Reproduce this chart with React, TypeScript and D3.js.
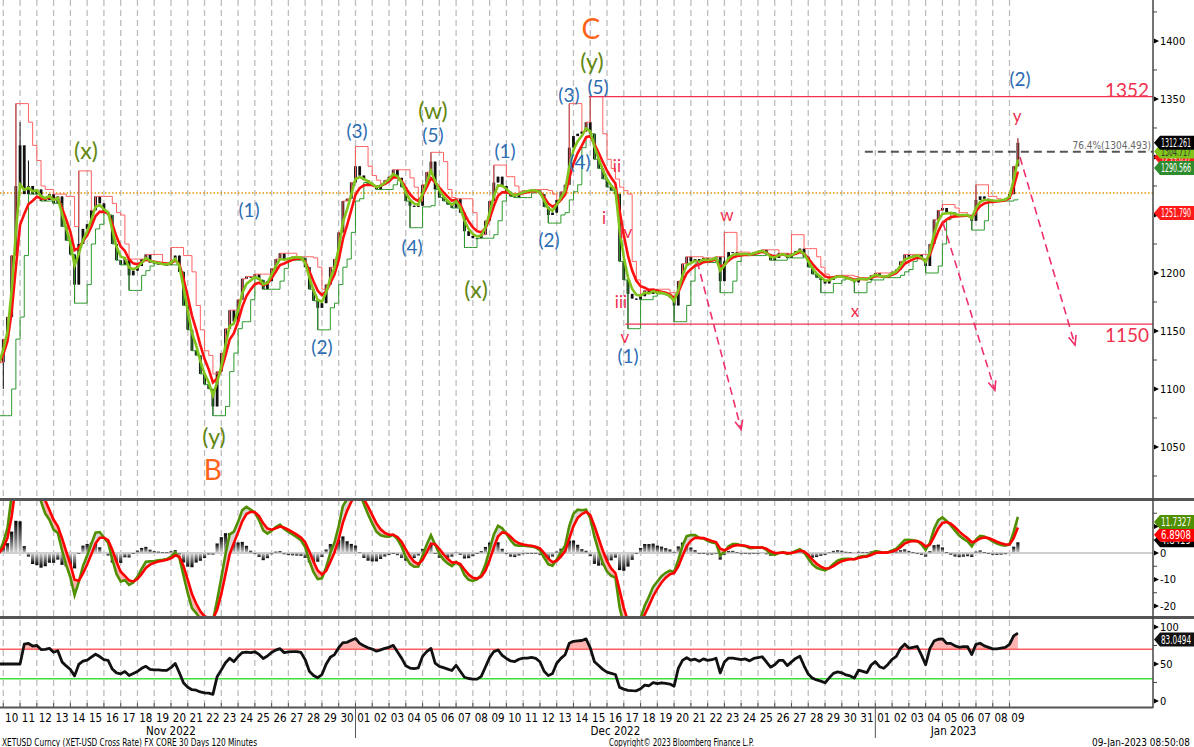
import React from 'react';
import * as d3 from 'd3';

// chart frame
const W = 1194;
const H = 747;
const AXIS_X = 1153;
const DAY_MS = 86400000;
const BAR_MS = 6 * 3600000;
const T0 = Date.UTC(2022, 10, 10); // Nov 10 00:00
const FIRST_BAR = Date.UTC(2022, 10, 9, 18);

// XETUSD 6-hour closes, Nov 9 18:00 -> Jan 9 12:00
const closes = [
  1123,
  1143, 1162, 1215, 1275, 1310, 1268, 1275, 1268, 1272, 1262, 1263, 1268, // Nov 10-12
  1260, 1266, 1240, 1228, 1216, 1190, 1225, 1238, 1242, 1254, 1266, 1260, // Nov 13-15
  1252, 1250, 1225, 1211, 1207, 1212, 1198, 1202, 1206, 1212, 1216, 1209, // Nov 16-18
  1208, 1208, 1207, 1207, 1210, 1215, 1201, 1172, 1151, 1133, 1129, 1113, // Nov 19-21
  1104, 1100, 1085, 1115, 1131, 1152, 1168, 1158, 1177, 1195, 1197, 1196, // Nov 22-24
  1199, 1194, 1186, 1193, 1204, 1212, 1217, 1211, 1213, 1214, 1214, 1213, // Nov 25-27
  1205, 1186, 1176, 1170, 1174, 1190, 1205, 1212, 1235, 1262, 1264, 1278, // Nov 28-30
  1292, 1284, 1280, 1277, 1275, 1272, 1276, 1280, 1283, 1289, 1282, 1274, // Dec 1-3
  1262, 1258, 1257, 1258, 1276, 1287, 1296, 1272, 1265, 1262, 1259, 1256, // Dec 4-6
  1264, 1252, 1236, 1232, 1230, 1230, 1233, 1245, 1262, 1278, 1283, 1275, // Dec 7-9
  1270, 1266, 1265, 1269, 1271, 1271, 1272, 1271, 1268, 1257, 1250, 1252, // Dec 10-12
  1263, 1270, 1276, 1308, 1318, 1320, 1322, 1330, 1320, 1298, 1290, 1281, // Dec 13-15
  1274, 1271, 1268, 1210, 1194, 1182, 1178, 1177, 1180, 1185, 1182, 1186, // Dec 16-18
  1182, 1183, 1181, 1179, 1172, 1193, 1208, 1214, 1210, 1212, 1209, 1213, // Dec 19-21
  1211, 1212, 1214, 1193, 1210, 1218, 1218, 1217, 1216, 1217, 1215, 1218, // Dec 22-24
  1219, 1220, 1216, 1211, 1213, 1217, 1217, 1213, 1216, 1219, 1221, 1214, // Dec 25-27
  1205, 1199, 1196, 1194, 1191, 1194, 1197, 1198, 1197, 1195, 1194, 1192, // Dec 28-30
  1196, 1195, 1194, 1198, 1200, 1197, 1196, 1198, 1201, 1203, 1210, 1216, // Dec 31-Jan 2
  1214, 1215, 1216, 1212, 1206, 1225, 1246, 1254, 1256, 1252, 1252, 1250, // Jan 3-5
  1249, 1250, 1250, 1245, 1263, 1266, 1264, 1263, 1262, 1262, 1263, 1264, // Jan 6-8
  1268, 1292, 1312.261,                                                   // Jan 9
];

// notable wick extremes: [bar index, price]
const spikeHighs: [number, number][] = [
  [4, 1346], [5, 1330], [7, 1297], [19, 1288], [41, 1222], [85, 1309], [103, 1304],
  [118, 1293], [136, 1346], [141, 1352], [173, 1235], [189, 1233], [225, 1259],
  [233, 1276], [243, 1316],
];
const spikeLows: [number, number][] = [
  [0, 1077], [1, 1100], [18, 1174], [31, 1185], [51, 1077], [76, 1151], [98, 1239],
  [111, 1222], [131, 1243], [150, 1152], [161, 1158], [172, 1183], [196, 1183],
  [204, 1183], [221, 1200], [232, 1237],
];

// last-value tags
const priceTags = [1299.657, 1290.566, 1304.717, 1312.261, 1251.79];
const oscTags = [4.8419, 6.8908, 11.7327];
const rsiTags = [83.0494];

const priceTicks = [1050, 1100, 1150, 1200, 1250, 1300, 1350, 1400];
const oscTicks = [-20, -10, 0, 10];
const rsiTicks = [0, 50, 100];
const rsiBands = [70, 30];

const pivotLevel = 1269;
const fibLevel = 1304.493;
// [price, start]
const boxLevels: [number, string][] = [
  [1352, '2022-12-14T22:00Z'],
  [1156, '2022-12-17T02:00Z'],
];
// [start, price, end, price]
const projections: [string, number, string, number][] = [
  ['2022-12-21T09:00Z', 1210, '2022-12-24T00:00Z', 1065],
  ['2023-01-05T01:00Z', 1243, '2023-01-08T03:00Z', 1099],
  ['2023-01-09T15:00Z', 1300, '2023-01-12T21:40Z', 1138],
];

// [text, days after Nov 10, price, group]
const waveLabels: [string, number, number, string][] = [
  ['(x)', 4.93, 1305, 'olive'], ['(y)', 12.56, 1059, 'olive'], ['B', 12.5, 1030, 'orange'],
  ['(1)', 14.65, 1254, 'blue'], ['(2)', 19.0, 1136, 'blue'], ['(3)', 21.09, 1322, 'blue'],
  ['(4)', 24.37, 1222, 'blue'], ['(w)', 25.62, 1340, 'olive'], ['(5)', 25.62, 1319, 'blue'],
  ['(x)', 28.19, 1185, 'olive'], ['(1)', 29.92, 1305, 'blue'], ['(2)', 32.54, 1228, 'blue'],
  ['(3)', 33.73, 1353, 'blue'], ['(4)', 34.39, 1295, 'blue'], ['C', 35.04, 1410, 'orange'],
  ['(y)', 35.1, 1382, 'olive'], ['(5)', 35.46, 1360, 'blue'], ['i', 35.82, 1247, 'red'],
  ['ii', 36.59, 1292, 'red'], ['iii', 36.83, 1175, 'red'], ['iv', 37.13, 1235, 'red'],
  ['v', 37.07, 1145, 'red'], ['(1)', 37.25, 1128, 'blue'], ['w', 43.15, 1250, 'red'],
  ['x', 50.79, 1167, 'red'], ['y', 60.45, 1335, 'red'], ['(2)', 60.63, 1367, 'blue'],
];
const levelLabels: [string, number][] = [['1352', 1357], ['1150', 1146]];

const monthLabels: [string, string][] = [
  ['Nov 2022', '2022-11-20T00:00Z'],
  ['Dec 2022', '2022-12-16T12:00Z'],
  ['Jan 2023', '2023-01-05T16:00Z'],
];

const AXIS_FONT = "'Liberation Sans Narrow', 'DejaVu Sans Condensed', sans-serif";
const LABEL_FONT = "Lato, 'Open Sans', sans-serif";
const groupStyle: Record<string, { fill: string; size: number }> = {
  orange: { fill: '#ff6319', size: 28 },
  olive: { fill: '#62870f', size: 23 },
  blue: { fill: '#2b6cb3', size: 19 },
  red: { fill: '#f0304f', size: 17 },
};

function ema(arr: number[], a: number) {
  const out: number[] = [];
  arr.forEach((v, i) => out.push(i === 0 ? v : out[i - 1] + a * (v - out[i - 1])));
  return out;
}

function rsiWilder(arr: number[], n: number) {
  let up = 0, dn = 0;
  return arr.map((v, i) => {
    const ch = i === 0 ? 0 : v - arr[i - 1];
    up = (up * (n - 1) + Math.max(ch, 0)) / n;
    dn = (dn * (n - 1) + Math.max(-ch, 0)) / n;
    return dn === 0 ? 50 : 100 - 100 / (1 + up / dn);
  });
}

function Tag({ y, text, bg, fg }: { y: number; text: string; bg: string; fg: string }) {
  return (
    <g>
      <polygon points={`${AXIS_X + 1},${y} ${AXIS_X + 7},${y - 7} ${W},${y - 7} ${W},${y + 7} ${AXIS_X + 7},${y + 7}`} fill={bg} />
      <text x={AXIS_X + 8} y={y} dy="0.35em" fill={fg} fontSize={12} fontFamily={AXIS_FONT}
        textLength={W - AXIS_X - 11} lengthAdjust="spacingAndGlyphs">{text}</text>
    </g>
  );
}

export default function App() {
  const x = d3.scaleUtc().domain([T0, Date.UTC(2023, 0, 9)]).range([3.3, 1009.5]);
  const y = d3.scaleLinear().domain([1005.2, 1435.3]).range([499, 0]);
  const yO = d3.scaleLinear().domain([-24.15, 20]).range([617, 500]);
  const yR = d3.scaleLinear().domain([-9.5, 110.8]).range([708, 619]);

  const times = closes.map((_, i) => FIRST_BAR + i * BAR_MS);
  const hiMap = new Map(spikeHighs);
  const loMap = new Map(spikeLows);
  const bars = closes.map((c, i) => {
    const o = i ? closes[i - 1] : c;
    return {
      t: times[i], o, c,
      h: Math.max(o, c, hiMap.get(i) ?? -Infinity),
      l: Math.min(o, c, loMap.get(i) ?? Infinity),
    };
  });
  // channel of recent highs / lows
  const upper = bars.map((_, i) => d3.max(bars.slice(Math.max(0, i - 2), i + 1), b => b.h) as number);
  const lower = bars.map((_, i) => d3.min(bars.slice(Math.max(0, i - 2), i + 1), b => b.l) as number);
  const fastMA = ema(closes, 0.55);
  const slowMA = ema(closes, 0.35);
  const ef = ema(closes, 0.4);
  const es = ema(closes, 0.2);
  const macd = ef.map((v, i) => v - es[i]);
  const signal = ema(macd, 0.5);
  const hist = macd.map((v, i) => v - signal[i]);
  const rsi = rsiWilder(closes, 9);

  const lineP = d3.line<number>().x((_, i) => x(times[i])).y(d => y(d));
  const stepP = d3.line<number>().x((_, i) => x(times[i])).y(d => y(d)).curve(d3.curveStepAfter);
  const lineO = d3.line<number>().x((_, i) => x(times[i])).y(d => yO(d));
  const lineR = d3.line<number>().x((_, i) => x(times[i])).y(d => yR(d));
  const between = d3.area<number>().x((_, i) => x(times[i])).y0((_, i) => yO(signal[i])).y1(d => yO(d));
  const aboveSig = d3.area<number>().x((_, i) => x(times[i])).y0(480).y1(d => yO(d));
  const belowSig = d3.area<number>().x((_, i) => x(times[i])).y0(d => yO(d)).y1(640);
  const rsiFill = d3.area<number>().x((_, i) => x(times[i])).y0(yR(70)).y1(d => yR(d));

  const days = d3.utcDay.range(new Date(T0), new Date(Date.UTC(2023, 0, 10)));
  const monthStarts = [Date.UTC(2022, 11, 1), Date.UTC(2023, 0, 1)];
  const minorPrice = d3.range(1025, 1430, 50);
  const minorOsc = [-15, -5, 5, 15];
  const minorRsi = [25, 75];
  const dayX = (d: number) => x(T0 + d * DAY_MS);

  const arrowHead = (x1: number, y1: number, x2: number, y2: number) => {
    const ang = Math.atan2(y2 - y1, x2 - x1);
    const L = 10;
    const a1 = ang + Math.PI - 0.4;
    const a2 = ang + Math.PI + 0.4;
    return `M${x2 + L * Math.cos(a1)},${y2 + L * Math.sin(a1)}L${x2},${y2}L${x2 + L * Math.cos(a2)},${y2 + L * Math.sin(a2)}`;
  };

  const tickMark = (ty: number, key: string) => (
    <polygon key={key} points={`${AXIS_X + 1},${ty - 2.5} ${AXIS_X + 6},${ty} ${AXIS_X + 1},${ty + 2.5}`} fill="#000" />
  );

  return (
    <svg width={W} height={H} style={{ position: 'absolute', left: 0, top: 0, background: '#fff' }}>
      <defs>
        <clipPath id="cMain"><rect x={0} y={0} width={AXIS_X} height={498} /></clipPath>
        <clipPath id="cOsc"><rect x={0} y={501} width={AXIS_X} height={115} /></clipPath>
        <clipPath id="cRsi"><rect x={0} y={619} width={AXIS_X} height={88} /></clipPath>
        <clipPath id="cAbove"><path d={aboveSig(signal) || ''} /></clipPath>
        <clipPath id="cBelow"><path d={belowSig(signal) || ''} /></clipPath>
        <clipPath id="cOver70"><rect x={0} y={619} width={AXIS_X} height={yR(70) - 619} /></clipPath>
        <linearGradient id="hPos" x1="0" y1="0" x2="0" y2="1">
          <stop offset="0" stopColor="#000" />
          <stop offset="1" stopColor="#d8d8d8" />
        </linearGradient>
        <linearGradient id="hNeg" x1="0" y1="0" x2="0" y2="1">
          <stop offset="0" stopColor="#d8d8d8" />
          <stop offset="1" stopColor="#000" />
        </linearGradient>
      </defs>
      <rect width={W} height={H} fill="#fff" />

      {/* day grid */}
      {days.map(d => (
        <line key={+d} x1={x(d)} x2={x(d)} y1={0} y2={706} stroke="#bdbdbd" strokeWidth={1.3} strokeDasharray="6,4" />
      ))}

      {/* ---- price panel ---- */}
      <g clipPath="url(#cMain)">
        <line x1={0} x2={AXIS_X} y1={y(pivotLevel)} y2={y(pivotLevel)} stroke="#e69500" strokeWidth={1.5} strokeDasharray="1.5,2" />
        {bars.map((b, i) => (
          <g key={i}>
            <line x1={x(b.t)} x2={x(b.t)} y1={y(b.h)} y2={y(b.l)} stroke="#111" strokeWidth={1} />
            <rect x={x(b.t) - 1.4} width={2.8} y={y(Math.max(b.o, b.c))} height={Math.max(1, Math.abs(y(b.o) - y(b.c)))} fill="#111" />
          </g>
        ))}
        <path d={stepP(upper) || ''} fill="none" stroke="#ff6262" strokeWidth={1} />
        <path d={stepP(lower) || ''} fill="none" stroke="#2e9a2e" strokeWidth={1} />
        <path d={lineP(slowMA) || ''} fill="none" stroke="#ff1010" strokeWidth={2.6} />
        <path d={lineP(fastMA) || ''} fill="none" stroke="#80c41c" strokeWidth={2.6} />

        {boxLevels.map(([v, s]) => (
          <line key={v} x1={x(new Date(s))} x2={AXIS_X} y1={y(v)} y2={y(v)} stroke="#f0304f" strokeWidth={1.3} />
        ))}
        <line x1={x(new Date('2022-12-31T09:00Z'))} x2={AXIS_X} y1={y(fibLevel)} y2={y(fibLevel)} stroke="#555" strokeWidth={2} strokeDasharray="8,5" />
        <text x={AXIS_X - 2} y={y(fibLevel) - 3} textAnchor="end" fontSize={10} fill="#666" fontFamily={AXIS_FONT}>
          {`76.4%(${fibLevel.toFixed(3)})`}
        </text>

        {projections.map(([s, v1, e, v2], i) => {
          const x1 = x(new Date(s)), y1 = y(v1), x2 = x(new Date(e)), y2 = y(v2);
          return (
            <g key={i} stroke="#f0306a" strokeWidth={1.6} fill="none">
              <line x1={x1} y1={y1} x2={x2} y2={y2} strokeDasharray="8,5" />
              <path d={arrowHead(x1, y1, x2, y2)} />
            </g>
          );
        })}

        {waveLabels.map(([t, d, v, g], i) => (
          <text key={i} x={dayX(d)} y={y(v)} dy="0.35em" textAnchor="middle" fill={groupStyle[g].fill}
            fontSize={groupStyle[g].size} fontFamily={LABEL_FONT}>{t}</text>
        ))}
        {levelLabels.map(([t, v]) => (
          <text key={t} x={AXIS_X - 4} y={y(v)} dy="0.35em" textAnchor="end" fill="#f0304f" fontSize={19} fontFamily={LABEL_FONT}>{t}</text>
        ))}
      </g>

      {/* ---- oscillator panel ---- */}
      <g clipPath="url(#cOsc)">
        <line x1={0} x2={AXIS_X} y1={yO(0)} y2={yO(0)} stroke="#cfcfcf" strokeWidth={2} />
        {hist.map((h, i) => (
          <rect key={i} x={x(times[i]) - 1.6} width={3.2} y={h >= 0 ? yO(h) : yO(0)} height={Math.max(0.5, Math.abs(yO(h) - yO(0)))}
            fill={h >= 0 ? 'url(#hPos)' : 'url(#hNeg)'} />
        ))}
        <path d={between(macd) || ''} fill="#d6d6d6" clipPath="url(#cAbove)" />
        <path d={between(macd) || ''} fill="#ffb4b4" clipPath="url(#cBelow)" />
        <path d={lineO(macd) || ''} fill="none" stroke="#4f8f00" strokeWidth={2.6} />
        <path d={lineO(signal) || ''} fill="none" stroke="#ff0000" strokeWidth={2.6} />
      </g>

      {/* ---- RSI panel ---- */}
      <g clipPath="url(#cRsi)">
        <path d={rsiFill(rsi) || ''} fill="#ffb4b4" clipPath="url(#cOver70)" />
        <line x1={0} x2={AXIS_X} y1={yR(rsiBands[0])} y2={yR(rsiBands[0])} stroke="#ff6060" strokeWidth={1.5} />
        <line x1={0} x2={AXIS_X} y1={yR(rsiBands[1])} y2={yR(rsiBands[1])} stroke="#3ee03e" strokeWidth={1.5} />
        <path d={lineR(rsi) || ''} fill="none" stroke="#111" strokeWidth={2.8} strokeLinejoin="round" />
      </g>

      {/* separators and axes */}
      <rect x={0} y={498} width={W} height={3} fill="#555" />
      <rect x={0} y={616} width={W} height={3} fill="#555" />
      <line x1={AXIS_X} x2={AXIS_X} y1={0} y2={708} stroke="#444" strokeWidth={1.5} />
      <line x1={0} x2={AXIS_X} y1={707.5} y2={707.5} stroke="#555" strokeWidth={2} />

      <g fontFamily={AXIS_FONT} fontSize={11} fill="#000">
        {minorPrice.map(v => <line key={v} x1={AXIS_X} x2={AXIS_X + 4} y1={y(v)} y2={y(v)} stroke="#444" />)}
        {minorOsc.map(v => <line key={v} x1={AXIS_X} x2={AXIS_X + 4} y1={yO(v)} y2={yO(v)} stroke="#444" />)}
        {minorRsi.map(v => <line key={v} x1={AXIS_X} x2={AXIS_X + 4} y1={yR(v)} y2={yR(v)} stroke="#444" />)}
        {priceTicks.map(v => (
          <g key={v}>{tickMark(y(v), 'p' + v)}<text x={AXIS_X + 7} y={y(v)} dy="0.35em">{v}</text></g>
        ))}
        {oscTicks.map(v => (
          <g key={v}>{tickMark(yO(v), 'o' + v)}<text x={AXIS_X + 7} y={yO(v)} dy="0.35em">{v}</text></g>
        ))}
        {rsiTicks.map(v => (
          <g key={v}>{tickMark(yR(v), 'r' + v)}<text x={AXIS_X + 7} y={yR(v)} dy="0.35em">{v}</text></g>
        ))}
      </g>

      {/* last value tags */}
      <Tag y={y(priceTags[0])} text={priceTags[0].toFixed(3)} bg="#ff1a1a" fg="#fff" />
      <Tag y={y(priceTags[1])} text={priceTags[1].toFixed(3)} bg="#2e8b2e" fg="#fff" />
      <Tag y={y(priceTags[2])} text={priceTags[2].toFixed(3)} bg="#80c41c" fg="#333" />
      <Tag y={y(priceTags[3])} text={priceTags[3].toFixed(3)} bg="#000" fg="#fff" />
      <Tag y={y(priceTags[4])} text={priceTags[4].toFixed(3)} bg="#ff1a1a" fg="#fff" />
      <Tag y={yO(oscTags[0])} text={oscTags[0].toFixed(4)} bg="#000" fg="#fff" />
      <Tag y={yO(oscTags[1])} text={oscTags[1].toFixed(4)} bg="#ff0000" fg="#fff" />
      <Tag y={yO(oscTags[2])} text={oscTags[2].toFixed(4)} bg="#4f8f00" fg="#fff" />
      <Tag y={yR(rsiTags[0])} text={rsiTags[0].toFixed(4)} bg="#111" fg="#fff" />

      {/* time axis */}
      <g fontFamily={AXIS_FONT} fontSize={11.5} fill="#000">
        {days.map(d => (
          <line key={'t' + +d} x1={x(d)} x2={x(d)} y1={703} y2={708} stroke="#555" />
        ))}
        {days.map(d => (
          <text key={'l' + +d} x={x(+d + DAY_MS / 2)} y={718} dy="0.35em" textAnchor="middle">{d3.utcFormat('%d')(d)}</text>
        ))}
        {monthStarts.map(m => (
          <line key={m} x1={x(m)} x2={x(m)} y1={708} y2={738} stroke="#555" />
        ))}
        {monthLabels.map(([t, d]) => (
          <text key={t} x={x(new Date(d))} y={731} dy="0.35em" textAnchor="middle">{t}</text>
        ))}
        <text x={2} y={742} dy="0.35em" fontSize={10} textLength={255} lengthAdjust="spacingAndGlyphs">
          XETUSD Curncy (XET-USD Cross Rate) FX CORE 30 Days 120 Minutes
        </text>
        <text x={609} y={742} dy="0.35em" fontSize={10} textLength={145} lengthAdjust="spacingAndGlyphs">
          Copyright© 2023 Bloomberg Finance L.P.
        </text>
        <text x={1092} y={742} dy="0.35em" fontSize={10} textLength={98} lengthAdjust="spacingAndGlyphs">
          09-Jan-2023 08:50:08
        </text>
      </g>
    </svg>
  );
}
